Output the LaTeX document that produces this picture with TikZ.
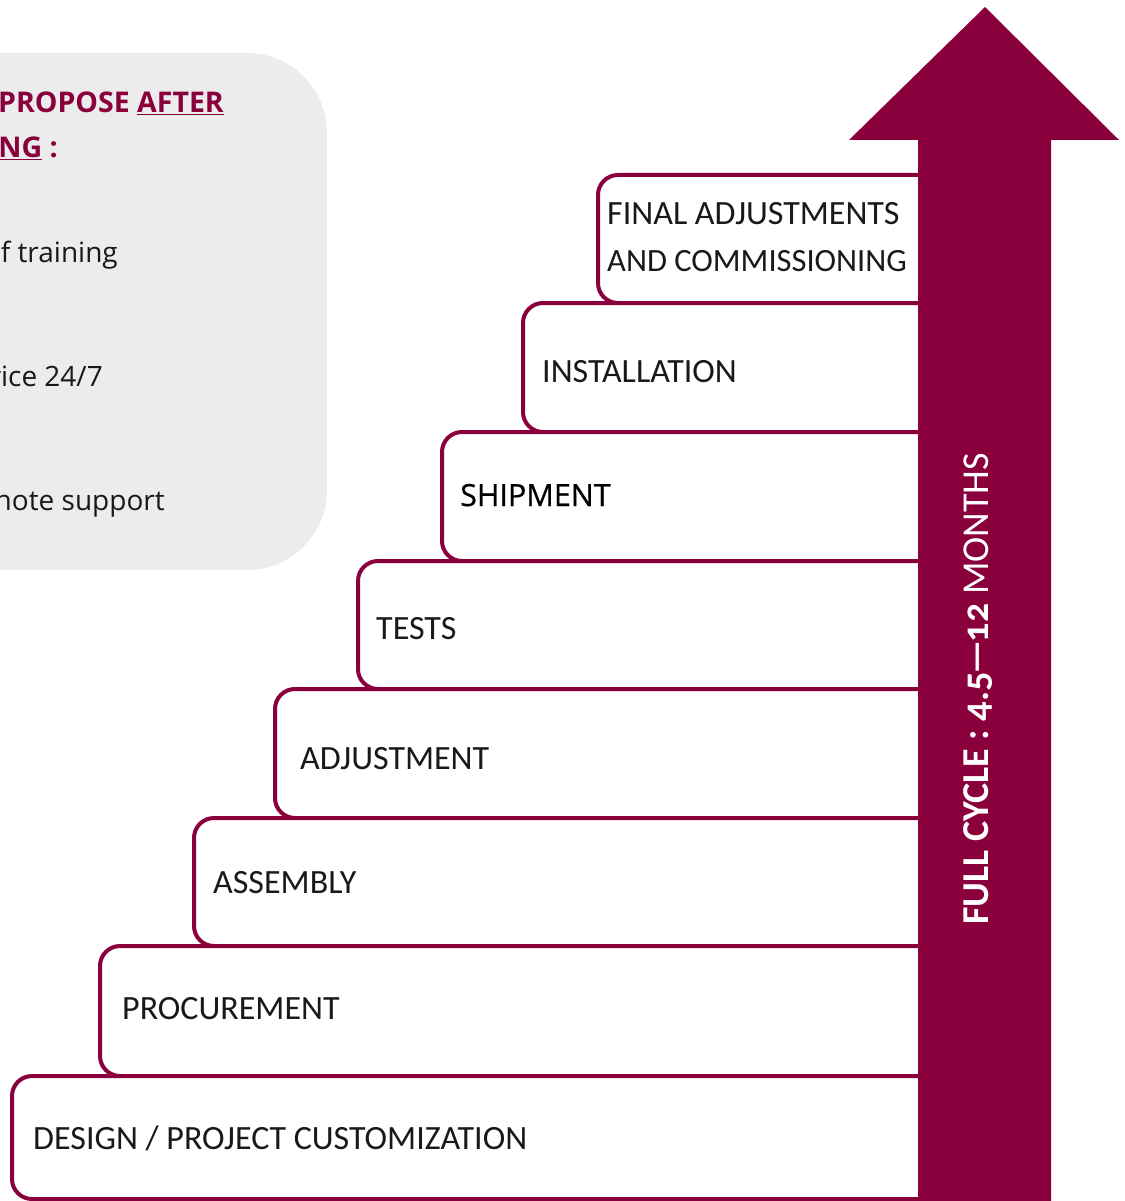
\documentclass[tikz,border=0pt]{standalone}
\usepackage{fontspec}
\setmainfont{Carlito}
\newfontfamily\osans{Open Sans}
\newfontfamily\osanssemi[FakeBold=0.6]{Open Sans}
\newfontfamily\oldnum[Numbers=OldStyle]{Carlito}
\definecolor{maroon}{RGB}{138,0,60}
\definecolor{panelgrey}{RGB}{236,236,236}
\begin{document}
\begin{tikzpicture}[x=1pt,y=-1pt,
  stepbox/.style={draw=maroon, line width=4pt, fill=white, rounded corners=20pt},
  steplabel/.style={anchor=base west, inner sep=0pt, text=black!90, font=\fontsize{34}{40}\selectfont},
  paneltext/.style={anchor=base east, inner sep=0pt, text=black!90, font=\osans\fontsize{28}{34}\selectfont},
  panelhead/.style={anchor=base east, inner sep=0pt, text=maroon, font=\osans\bfseries\fontsize{28.5}{34}\selectfont}]
\useasboundingbox (0,0) rectangle (1124,1201);
\clip (0,0) rectangle (1124,1201);
% grey panel
\fill[panelgrey, rounded corners=80pt] (-120,53) rectangle (327,570);
\node[panelhead] (h1) at (224,113) {PROPOSE \underline{AFTER}};
\node[panelhead] (h2) at (58,158) {\underline{NG} :};
\node[paneltext] (t1) at (118,262) {f training};
\node[paneltext] (t2) at (103,386) {vice 24/7};
\node[paneltext] (t3) at (165,510) {note support};
% steps, top to bottom
\draw[stepbox] (598,175) rectangle (960,303);
\draw[stepbox] (523,303) rectangle (960,432);
\draw[stepbox] (442,432) rectangle (960,561);
\draw[stepbox] (358,561) rectangle (960,689);
\draw[stepbox] (275,689) rectangle (960,818);
\draw[stepbox] (194,818) rectangle (960,946);
\draw[stepbox] (100,946) rectangle (960,1076);
\draw[stepbox] (12,1076) rectangle (960,1199);
\node[steplabel] (s8a) at (607,224) {FINAL ADJUSTMENTS};
\node[steplabel, font=\fontsize{32.5}{38}\selectfont] (s8b) at (607,271) {AND COMMISSIONING};
\node[steplabel] (s7) at (542,382) {INSTALLATION};
\node[steplabel, font=\osanssemi\fontsize{30.5}{36}\selectfont, text=black] (s6) at (460,506) {SHIPMENT};
\node[steplabel] (s5) at (376,639) {TESTS};
\node[steplabel] (s4) at (300,769) {ADJUSTMENT};
\node[steplabel] (s3) at (213,893) {ASSEMBLY};
\node[steplabel] (s2) at (122,1019) {PROCUREMENT};
\node[steplabel] (s1) at (33,1149) {DESIGN / PROJECT CUSTOMIZATION};
% arrow
\fill[maroon] (918,1215) -- (918,140) -- (849,140) -- (985,7) -- (1119,140) -- (1051,140) -- (1051,1215) -- cycle;
\node[rotate=90, text=white, inner sep=0pt, font=\oldnum\fontsize{38}{44}\selectfont] (cyc) at (978,689) {\textbf{FULL CYCLE : 4.5\kern-2pt—\kern-2pt12} MONTHS};
\end{tikzpicture}
\end{document}
